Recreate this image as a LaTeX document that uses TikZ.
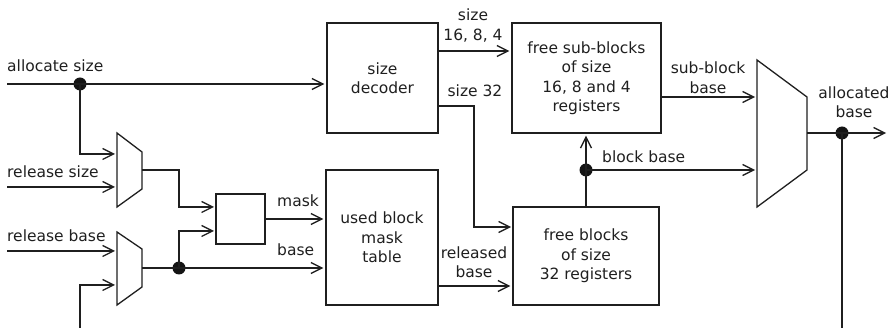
\documentclass[tikz,border=0pt]{standalone}
\usepackage{fontspec}
\setmainfont{DejaVu Sans}
\usetikzlibrary{arrows.meta}
\begin{document}
\begin{tikzpicture}[x=1pt,y=-1pt,
  every node/.style={font=\fontsize{15.5}{19.5}\selectfont, text=black!88},
  box/.style={draw=black!88, line width=1.3pt, inner sep=0pt, align=center},
  lbl/.style={inner sep=0pt, align=center},
  wire/.style={line width=1.3pt, draw=black!88},
  arr/.style={wire, -{Straight Barb[length=11pt,width=11pt,line width=1.3pt]}, shorten >=2pt},
  dot/.style={circle, fill=black!92, inner sep=0pt, minimum size=13pt}
]
\useasboundingbox (0,0) rectangle (894,328);
% boxes
\node[box, minimum width=111pt, minimum height=110pt] (dec) at (382.5,78) {size\\decoder};
\node[box, minimum width=112pt, minimum height=135pt] (ubt) at (382,237.5) {used block\\mask\\table};
\node[box, minimum width=149pt, minimum height=110pt] (fsb) at (586.5,78) {free sub-blocks\\of size\\16, 8 and 4\\registers};
\node[box, minimum width=146pt, minimum height=98pt] (fb) at (586,256) {free blocks\\of size\\32 registers};
\node[box, minimum width=49pt, minimum height=50pt] (sb) at (240.5,219) {};
% multiplexers
\draw[wire] (117,133) -- (142,152) -- (142,189) -- (117,207) -- cycle;
\draw[wire] (117,232) -- (142,249) -- (142,287) -- (117,305) -- cycle;
\draw[wire] (757,60) -- (807,97) -- (807,170) -- (757,207) -- cycle;
\coordinate (m1a) at (117,154);
\coordinate (m1b) at (117,187);
\coordinate (m1o) at (142,170);
\coordinate (m2a) at (117,251);
\coordinate (m2b) at (117,285);
\coordinate (m2o) at (142,268);
\coordinate (m3a) at (757,97);
\coordinate (m3b) at (757,170);
\coordinate (m3o) at (807,133);
% other coordinates
\coordinate (inA) at (7,84);
\coordinate (inRS) at (7,187);
\coordinate (inRB) at (7,251);
\coordinate (inL) at (80,328);
\coordinate (k1) at (179,170);
\coordinate (sbi1) at (216,207);
\coordinate (sbi2) at (216,231);
\coordinate (d1) at (438,51);
\coordinate (d2) at (438,106);
\coordinate (k2) at (474,106);
\coordinate (fbi1) at (513,227);
\coordinate (ubo) at (438,286);
\coordinate (fso) at (661,97);
\coordinate (outE) at (888,133);
\coordinate (outS) at (842,328);
% junction dots
\node[dot] (jA) at (80,84) {};
\node[dot] (jB) at (179,268) {};
\node[dot] (jC) at (586,170) {};
\node[dot] (jD) at (842,133) {};
% connectors
\draw[arr] (inA) -- (inA -| dec.west);
\draw[arr] (jA.center) |- (m1a);
\draw[arr] (inRS) -- (m1b);
\draw[arr] (inRB) -- (m2a);
\draw[arr] (inL) |- (m2b);
\draw[arr] (m1o) -- (k1) |- (sbi1);
\draw[arr] (m2o) -- (m2o -| ubt.west);
\draw[arr] (jB.center) |- (sbi2);
\draw[arr] (sb.east) -- (sb.east -| ubt.west);
\draw[arr] (d1) -- (d1 -| fsb.west);
\draw[arr] (d2) -- (k2) |- (fbi1);
\draw[arr] (ubo) -- (ubo -| fb.west);
\draw[arr] (fb.north) -- (fb.north |- fsb.south);
\draw[arr] (jC.center) -- (m3b);
\draw[arr] (fso) -- (m3a);
\draw[arr] (m3o) -- (outE);
\draw[wire] (jD.center) -- (outS);
% labels
\node[lbl, anchor=base west] (lA) at (7,72) {allocate size};
\node[lbl, anchor=base west] (lRS) at (7,178) {release size};
\node[lbl, anchor=base west] (lRB) at (7,242) {release base};
\node[lbl, anchor=base west] (lM) at (277,207) {mask};
\node[lbl, anchor=base west] (lB) at (277,256) {base};
\node[lbl] (lS1) at (473,25.5) {size\\16, 8, 4};
\node[lbl, anchor=base] (lS2) at (475,97) {size 32};
\node[lbl] (lRel) at (474,262) {released\\base};
\node[lbl] (lSub) at (708,77.5) {sub-block\\base};
\node[lbl, anchor=base west] (lBB) at (602,163) {block base};
\node[lbl] (lAl) at (854,102) {allocated\\base};
\end{tikzpicture}
\end{document}
